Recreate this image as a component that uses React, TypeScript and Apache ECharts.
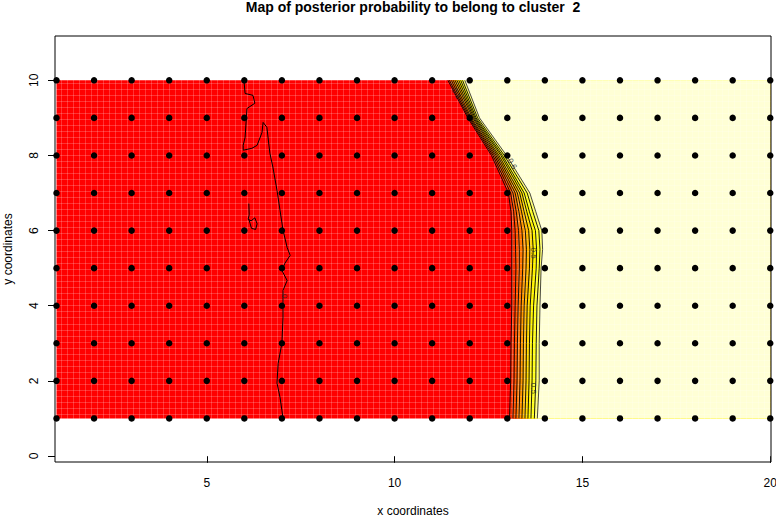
import React, { useEffect, useRef } from "react";
import * as echarts from "echarts";

// ---- data ----
const pointsX = [1, 2, 3, 4, 5, 6, 7, 8, 9, 10, 11, 12, 13, 14, 15, 16, 17, 18, 19, 20];
const pointsY = [1, 2, 3, 4, 5, 6, 7, 8, 9, 10];
const xTicks = [5, 10, 15, 20];
const yTicks = [0, 2, 4, 6, 8, 10];
const imageX = [1, 20];
const imageY = [1, 10];

// rows (y) at which the contour x-positions were read
const contourY = [1, 2, 3, 4, 5, 5.5, 6, 6.5, 7, 8, 9, 10];
const contourLevels = ["0.1", "0.2", "0.3", "0.4", "0.5", "0.6", "0.7", "0.8", "0.9", "1"];
const c01 = [13.06, 13.09, 13.1, 13.12, 13.12, 13.12, 13.12, 13.1, 13.03, 12.58, 11.95, 11.42];
const c02 = [13.15, 13.18, 13.19, 13.21, 13.23, 13.22, 13.21, 13.17, 13.09, 12.62, 11.98, 11.46];
const c03 = [13.23, 13.26, 13.27, 13.29, 13.32, 13.32, 13.3, 13.24, 13.15, 12.66, 12.01, 11.51];
const c04 = [13.31, 13.34, 13.35, 13.37, 13.41, 13.42, 13.39, 13.31, 13.21, 12.7, 12.04, 11.56];
const c05 = [13.39, 13.42, 13.43, 13.45, 13.5, 13.51, 13.48, 13.38, 13.27, 12.74, 12.08, 11.61];
const c06 = [13.47, 13.5, 13.51, 13.53, 13.59, 13.6, 13.57, 13.45, 13.33, 12.78, 12.11, 11.66];
const c07 = [13.55, 13.58, 13.59, 13.61, 13.67, 13.69, 13.66, 13.52, 13.39, 12.83, 12.14, 11.71];
const c08 = [13.63, 13.66, 13.67, 13.7, 13.77, 13.78, 13.75, 13.59, 13.45, 12.87, 12.17, 11.76];
const c09 = [13.72, 13.76, 13.77, 13.79, 13.85, 13.87, 13.84, 13.68, 13.53, 12.92, 12.21, 11.81];
const c10 = [13.8, 13.85, 13.85, 13.87, 13.9, 13.94, 13.92, 13.76, 13.6, 12.98, 12.26, 11.87];
const contourX = [c01, c02, c03, c04, c05, c06, c07, c08, c09, c10];

// level-0 contour (wiggly line near x = 7)
const level0X = [5.99, 6.02, 6.23, 6.28, 6.07, 6.02, 5.97, 5.97, 6.2, 6.34, 6.47, 6.5, 6.6, 6.68, 6.76, 6.87, 6.95, 7.03, 7.14, 7.22, 7.08, 7.0, 7.14, 7.03, 7.03, 7.0, 6.9, 6.87, 6.95, 7.0, 7.03];
const level0Y = [10.0, 9.65, 9.6, 9.39, 9.25, 8.48, 8.27, 8.14, 8.19, 8.27, 8.61, 8.88, 8.75, 8.06, 7.69, 7.07, 6.54, 6.01, 5.55, 5.34, 5.13, 4.94, 4.67, 4.41, 3.69, 3.0, 2.46, 1.94, 1.56, 1.22, 1.0];
const islandX = [6.12, 6.13, 6.1, 6.18, 6.28, 6.34, 6.3, 6.19, 6.15, 6.12];
const islandY = [6.72, 6.42, 6.3, 6.26, 6.34, 6.18, 6.03, 6.06, 6.2, 6.3];

const labelX = [13.69, 13.69, 13.13, 11.64, 7.06];
const labelY = [5.4, 1.8, 7.78, 9.65, 4.25];
const labelText = ["0.5", "0.5", "0.6", "0.1", "0"];
const labelRot = [-90, -90, -60, -60, -90];

const baseColor = "#FF0000";
const bandColors = ["#FF3000", "#FF5500", "#FF7800", "#FF9800", "#FFB800", "#FFD800", "#FFF500", "#FFFF20", "#FFFF70", "#FFFFD5"];

const FONT = "Liberation Sans, Arial, Helvetica, sans-serif";

export default function App() {
  const ref = useRef<HTMLDivElement>(null);
  useEffect(() => {
    const chart = echarts.init(ref.current!, null, { renderer: "svg" });

    const contourSeries = contourX.map((xs, k) => ({
      type: "line",
      name: "level " + contourLevels[k],
      xAxisIndex: 0,
      yAxisIndex: 0,
      data: contourY.map((y, j) => [xs[j], y]),
      showSymbol: false,
      symbol: "none",
      lineStyle: { color: k === contourX.length - 1 ? "#333" : "#000", width: 0.9 },
      z: 3,
      silent: true,
    }));

    const option: any = {
      animation: false,
      textStyle: { fontFamily: FONT },
      grid: {
        left: 55,
        top: 36,
        width: 716,
        height: 426,
        containLabel: false,
        outerBoundsMode: "none",
        show: true,
        borderColor: "#000",
        borderWidth: 1,
        backgroundColor: "transparent",
        z: 10,
      },
      graphic: [
        {
          type: "text",
          x: 413,
          y: 7,
          style: {
            text: "Map of posterior probability to belong to cluster  2",
            fontSize: 14,
            fontWeight: "bold",
            fontFamily: FONT,
            fill: "#000",
            textAlign: "center",
            align: "center",
            textVerticalAlign: "middle",
            verticalAlign: "middle",
          },
        },
      ],
      xAxis: [
        {
          type: "value",
          min: 0.96,
          max: 20.02,
          position: "bottom",
          name: "x coordinates",
          nameLocation: "middle",
          nameGap: 43,
          nameTextStyle: { fontSize: 12, color: "#000", fontFamily: FONT },
          axisLine: { show: false },
          axisTick: { show: true, customValues: xTicks, length: 7, lineStyle: { color: "#000" } },
          axisLabel: { show: true, customValues: xTicks, fontSize: 12, color: "#000", margin: 15, fontFamily: FONT },
          splitLine: { show: false },
        },
        {
          type: "value",
          min: 0.96,
          max: 20.02,
          interval: 0.16,
          position: "bottom",
          axisLine: { show: false },
          axisTick: { show: false },
          axisLabel: { show: false },
          splitLine: { show: true, lineStyle: { color: "rgba(255,255,255,0.2)", width: 1 } },
          z: 2,
        },
      ],
      yAxis: [
        {
          type: "value",
          min: -0.16,
          max: 11.18,
          position: "left",
          name: "y coordinates",
          nameLocation: "middle",
          nameGap: 41,
          nameRotate: 90,
          nameTextStyle: { fontSize: 12, color: "#000", fontFamily: FONT },
          axisLine: { show: false },
          axisTick: { show: true, customValues: yTicks, length: 7, lineStyle: { color: "#000" } },
          axisLabel: { show: true, customValues: yTicks, fontSize: 12, color: "#000", margin: 15, rotate: 90, fontFamily: FONT },
          splitLine: { show: false },
        },
        {
          type: "value",
          min: -0.16,
          max: 11.18,
          interval: 0.16,
          position: "left",
          axisLine: { show: false },
          axisTick: { show: false },
          axisLabel: { show: false },
          splitLine: { show: true, lineStyle: { color: "rgba(255,255,255,0.2)", width: 1 } },
          z: 2,
        },
      ],
      series: [
        {
          type: "custom",
          name: "image",
          xAxisIndex: 0,
          yAxisIndex: 0,
          z: 1,
          silent: true,
          data: [imageX, ...contourX].map(() => [imageX[0], imageY[0]]),
          renderItem: (params: any, api: any) => {
            const i = params.dataIndex;
            if (i === 0) {
              const p0 = api.coord([imageX[0], imageY[0]]);
              const p1 = api.coord([imageX[1], imageY[1]]);
              return {
                type: "rect",
                shape: { x: p0[0], y: p1[1], width: p1[0] - p0[0], height: p0[1] - p1[1] },
                style: { fill: baseColor },
              };
            }
            const k = i - 1;
            const pts = contourY.map((y, j) => api.coord([contourX[k][j], y]));
            pts.push(api.coord([imageX[1], imageY[1]]));
            pts.push(api.coord([imageX[1], imageY[0]]));
            return { type: "polygon", shape: { points: pts }, style: { fill: bandColors[k] } };
          },
        },
        ...contourSeries,
        {
          type: "line",
          name: "level 0",
          data: level0X.map((x, j) => [x, level0Y[j]]),
          showSymbol: false,
          symbol: "none",
          lineStyle: { color: "#000", width: 1 },
          z: 3,
          silent: true,
        },
        {
          type: "line",
          name: "level 0 island",
          data: islandX.map((x, j) => [x, islandY[j]]),
          showSymbol: false,
          symbol: "none",
          lineStyle: { color: "#000", width: 1 },
          z: 3,
          silent: true,
        },
        {
          type: "scatter",
          name: "labels",
          symbolSize: 0,
          z: 5,
          silent: true,
          data: labelX.map((x, j) => ({
            value: [x, labelY[j]],
            label: { show: true, formatter: labelText[j], rotate: labelRot[j] },
          })),
          label: { show: true, position: "inside", fontSize: 8, color: "#222", fontFamily: FONT },
        },
        {
          type: "scatter",
          name: "sites",
          symbol: "circle",
          symbolSize: 6.5,
          itemStyle: { color: "#000", opacity: 1 },
          z: 4,
          silent: true,
          data: pointsY.flatMap((y) => pointsX.map((x) => [x, y])),
        },
      ],
    };

    chart.setOption(option);
    return () => chart.dispose();
  }, []);

  return (
    <div
      ref={ref}
      style={{ position: "absolute", left: 0, top: 0, width: 776, height: 518, background: "#fff" }}
    />
  );
}
